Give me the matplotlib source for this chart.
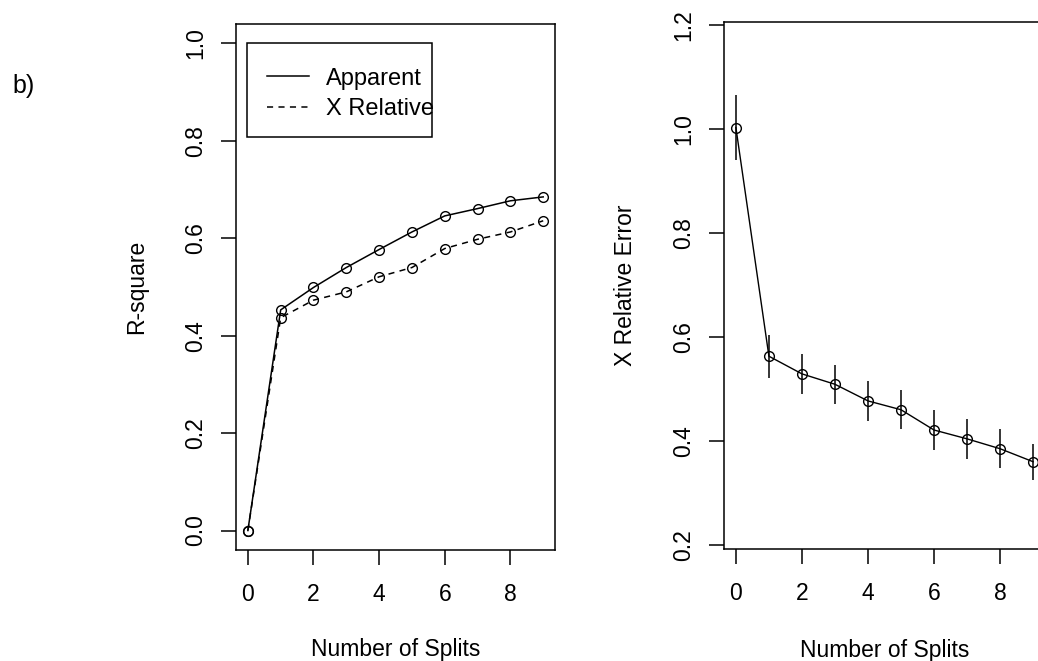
import matplotlib
matplotlib.use("Agg")
import matplotlib.pyplot as plt
from matplotlib.patches import Rectangle

# values
splits = [0, 1, 2, 3, 4, 5, 6, 7, 8, 9]
rsq_apparent = [0.0, 0.453, 0.499, 0.540, 0.577, 0.613, 0.646, 0.661, 0.677, 0.685]
rsq_xrelative = [0.0, 0.437, 0.473, 0.490, 0.521, 0.540, 0.579, 0.598, 0.613, 0.636]
xerror = [1.003, 0.563, 0.529, 0.509, 0.477, 0.460, 0.421, 0.404, 0.385, 0.360]
xstd = [0.062, 0.041, 0.038, 0.038, 0.038, 0.038, 0.038, 0.038, 0.037, 0.035]
left_yticks = [0.0, 0.2, 0.4, 0.6, 0.8, 1.0]
right_yticks = [0.2, 0.4, 0.6, 0.8, 1.0, 1.2]
xticks = [0, 2, 4, 6, 8]

plt.rcParams["font.family"] = ["Liberation Sans", "DejaVu Sans"]
plt.rcParams["font.size"] = 16.5

fig = plt.figure(figsize=(10.38, 6.61), dpi=100)
ax1 = fig.add_axes([0.2274, 0.1679, 0.3073, 0.7958])
ax2 = fig.add_axes([0.6975, 0.1694, 0.3092, 0.7973])


def r_style(ax, yticks):
    for s in ax.spines.values():
        s.set_linewidth(1.1)
    ax.set_xticks(xticks)
    ax.set_yticks(yticks)
    ax.set_yticklabels([f"{v:.1f}" for v in yticks])
    ax.tick_params(direction="out", length=11, width=1.1, labelsize=16.5)
    ax.tick_params(axis="x", pad=13)
    ax.tick_params(axis="y", pad=10, labelrotation=90)
    for lab in ax.get_yticklabels():
        lab.set_va("center")
    ax.set_xlabel("Number of Splits", fontsize=16.5)


# left panel: R-square
ax1.plot(splits, rsq_apparent, "-", color="black", lw=1.1, marker="o",
         mfc="none", mec="black", ms=7, mew=1.0, label="Apparent")
ax1.plot(splits, rsq_xrelative, color="black", lw=1.1, ls=(0, (4, 3.5)),
         marker="o", mfc="none", mec="black", ms=7, mew=1.0, label="X Relative")
ax1.set_xlim(-0.36, 9.36)
ax1.set_ylim(-0.04, 1.04)
r_style(ax1, left_yticks)
ax1.set_ylabel("R-square", fontsize=16.5)
ax1.yaxis.set_label_coords(-0.275, 0.5)
ax1.xaxis.set_label_coords(0.5, -0.168)

# R-style legend: text runs almost to the right edge of its box
leg = ax1.legend(loc="upper left", bbox_to_anchor=(0.035, 0.955),
                 borderaxespad=0, frameon=False, handlelength=1.75,
                 handletextpad=0.75, labelspacing=0.36, borderpad=0.85,
                 fontsize=17)
for h in leg.legend_handles:
    h.set_marker("")
ax1.add_patch(Rectangle((0.0345, 0.785), 0.58, 0.179, transform=ax1.transAxes,
                        fill=False, edgecolor="black", lw=1.1, zorder=5))

# right panel: X Relative Error with +/- 1 SE bars
ax2.plot(splits, xerror, "-", color="black", lw=1.0, marker="o",
         mfc="none", mec="black", ms=7, mew=1.0)
ax2.vlines(splits, [e - s for e, s in zip(xerror, xstd)],
           [e + s for e, s in zip(xerror, xstd)], color="black", lw=1.1)
ax2.set_xlim(-0.36, 9.36)
ax2.set_ylim(0.192, 1.206)
r_style(ax2, right_yticks)
ax2.set_ylabel("X Relative Error", fontsize=16.5)
ax2.yaxis.set_label_coords(-0.27, 0.5)
ax2.xaxis.set_label_coords(0.5, -0.17)

fig.text(12 / 1038, 1 - 86 / 661, "b)", fontsize=18, va="center", ha="left")

fig.savefig("out.png", dpi=100)
